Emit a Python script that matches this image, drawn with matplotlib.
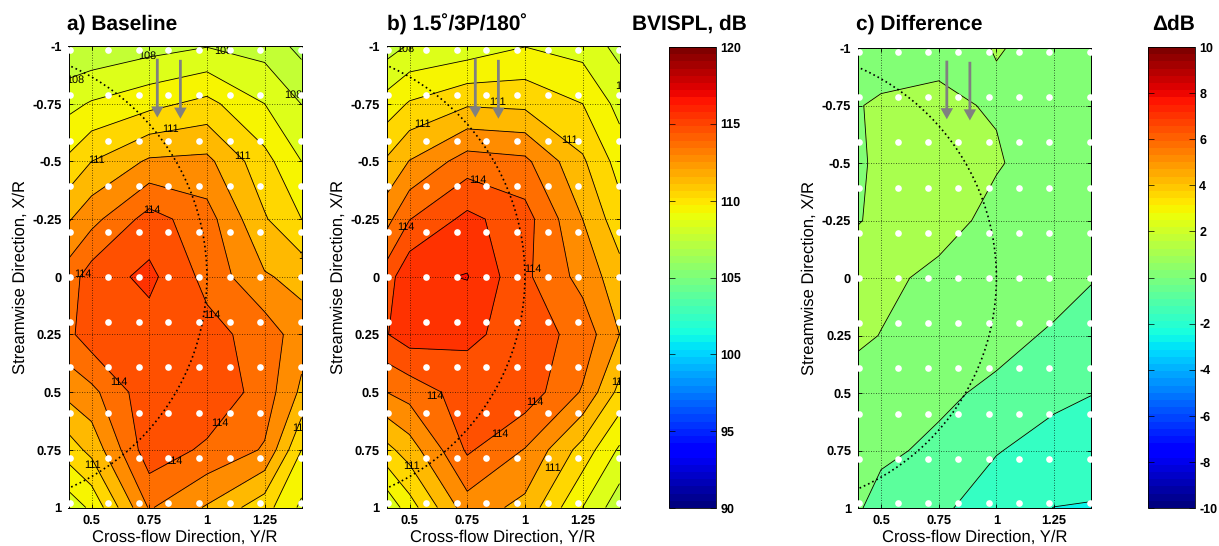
import numpy as np
import matplotlib
matplotlib.use('Agg')
import matplotlib.pyplot as plt
from matplotlib.cm import ScalarMappable
from matplotlib.colors import Normalize
from matplotlib.patches import Circle

plt.rcParams['font.family'] = ['Liberation Sans', 'DejaVu Sans']
plt.rcParams['axes.unicode_minus'] = False
plt.rcParams['text.hinting'] = 'none'

# measurement grid
y_r = [0.4, 0.5, 0.75, 1.0, 1.25, 1.41]
x_r = [-1, -0.75, -0.5, -0.25, 0, 0.25, 0.5, 0.75, 1]

# a) baseline BVISPL, dB (rows = x_r, columns = y_r)
baseline = [
    [107.1, 107.2, 107.6, 107.95, 107.6, 106.7],
    [108.7, 109.1, 109.7, 110.3, 109.0, 107.98],
    [110.2, 111.0, 112.15, 112.25, 110.34, 109.0],
    [111.9, 112.67, 114.41, 113.4, 111.1, 110.0],
    [113.5, 114.5, 115.25, 113.69, 112.1, 111.7],
    [113.77, 114.57, 114.57, 114.34, 113.58, 112.44],
    [112.3, 112.73, 114.7, 114.84, 113.53, 111.8],
    [110.5, 111.3, 114.63, 113.8, 112.9, 110.0],
    [108.4, 109.2, 113.1, 111.9, 110.4, 108.8],
]

# b) 1.5deg/3P/180deg
hhc = [
    [107.55, 108.1, 108.4, 108.97, 108.6, 107.7],
    [109.42, 110.1, 110.86, 110.75, 110.0, 108.67],
    [111.13, 112.04, 113.47, 113.23, 111.15, 109.6],
    [112.65, 113.97, 115.27, 114.4, 112.0, 110.4],
    [114.5, 115.8, 116.05, 114.2, 112.66, 111.4],
    [114.95, 115.5, 115.2, 114.59, 113.6, 112.0],
    [113.0, 113.4, 114.49, 114.6, 112.9, 110.7],
    [110.7, 111.5, 114.15, 112.95, 110.6, 108.85],
    [108.2, 109.55, 112.55, 111.7, 109.0, 107.4],
]

# c) difference, dB
difference = [
    [0.3, 0.54, 0.81, 1.022, 0.889, 0.6],
    [0.96, 1.12, 1.143, 0.925, 0.6, 0.5],
    [0.71, 1.4, 1.5, 1.1, 0.42, 0.4],
    [0.95, 1.2, 1.5, 0.624, 0.5, 0.4],
    [1.575, 1.306, 0.69, 0.6, 0.78, 0.068],
    [1.23, 0.966, 0.75, 0.636, -0.26, -0.5],
    [0.4, 0.6, 0.378, -0.4, -0.7, -0.96],
    [0.55, 0.353, -0.382, -0.93, -1.52, -1.8],
    [0.196, -0.707, -0.75, -1.71, -2.01, -2.025],
]

# microphone positions
mic_y = [0.405, 0.572, 0.705, 0.833, 0.966, 1.10, 1.23, 1.407]
mic_x = [-0.984, -0.786, -0.59, -0.393, -0.195, 0, 0.195, 0.393, 0.59, 0.786, 0.98]

x_ticks = [0.5, 0.75, 1, 1.25]
x_ticklabels = ['0.5', '0.75', '1', '1.25']
y_ticks = [-1, -0.75, -0.5, -0.25, 0, 0.25, 0.5, 0.75, 1]
y_ticklabels = ['-1', '-0.75', '-0.5', '-0.25', '0', '0.25', '0.5', '0.75', '1']

# contour labels: y/r, x/r, text
labels_a = [(0.743, -0.955, '108'), (1.07, -0.98, '108'), (0.428, -0.854, '108'), (1.375, -0.786, '108'),
            (0.84, -0.64, '111'), (0.522, -0.504, '111'), (1.156, -0.522, '111'), (0.763, -0.288, '114'),
            (0.461, -0.013, '114'), (1.021, 0.165, '114'), (0.619, 0.455, '114'), (1.057, 0.636, '114'),
            (0.857, 0.80, '114'), (0.504, 0.815, '111'), (1.405, 0.656, '111'), (1.43, -0.09, '111')]
labels_b = [(0.481, -0.988, '108'), (0.879, -0.757, '111'), (0.558, -0.66, '111'), (1.194, -0.59, '111'),
            (0.795, -0.418, '114'), (0.486, -0.215, '114'), (1.035, -0.035, '114'), (1.43, -0.825, '108'),
            (0.611, 0.517, '114'), (1.045, 0.545, '114'), (0.89, 0.683, '114'), (0.507, 0.82, '111'),
            (1.12, 0.828, '111'), (1.41, 0.455, '111')]

W, H = 1219, 546
fig = plt.figure(figsize=(W / 100, H / 100), dpi=100)


def add_axes_px(left, top, right, bottom):
    return fig.add_axes([left / W, 1 - bottom / H, (right - left) / W, (bottom - top) / H])


def fig_text(x, y, s, **kw):
    fig.text(x / W, 1 - y / H, s, va='center', **kw)


def panel(box, z, levels, vmin, vmax, labels):
    ax = add_axes_px(*box)
    ax.contourf(y_r, x_r, z, levels=levels, cmap=plt.get_cmap('jet', 64), vmin=vmin, vmax=vmax)
    ax.contour(y_r, x_r, z, levels=levels, colors='k', linewidths=0.6, linestyles='solid')
    ax.set_xlim(0.4, 1.41)
    ax.set_ylim(1, -1)
    ax.set_xticks(x_ticks)
    ax.set_xticklabels(x_ticklabels, fontsize=9.3, fontweight='bold')
    ax.set_yticks(y_ticks)
    ax.set_yticklabels(y_ticklabels, fontsize=9.3, fontweight='bold')
    ax.tick_params(direction='in', length=3, width=0.6, top=True, right=True, pad=5)
    ax.grid(True, color='k', linestyle=(0, (1, 2)), linewidth=0.6, alpha=0.8)
    ax.set_axisbelow(False)
    # rotor disk edge
    ax.add_patch(Circle((0, 0), 1, fill=False, linestyle=(0, (1, 1.8)), linewidth=1.2, edgecolor='k', zorder=4))
    for s in ax.spines.values():
        s.set_linewidth(0.7)
    for (tx, ty, t) in labels:
        ax.text(tx, ty, t, fontsize=7.8, ha='center', va='center', color='k', clip_on=True, zorder=4)
    gx, gy = np.meshgrid(mic_y, mic_x)
    ax.plot(gx.ravel(), gy.ravel(), 'o', color='white', markersize=4.8, markeredgewidth=0, zorder=5)
    for ax_x, tip, tail in [(0.785, -0.69, -0.945), (0.885, -0.685, -0.94)]:
        ax.annotate('', xy=(ax_x, tip), xytext=(ax_x, tail), zorder=6,
                    arrowprops=dict(facecolor='#808080', edgecolor='#808080', width=2, headwidth=9, headlength=8,
                                    shrink=0, linewidth=0))
    ax.set_xlabel('Cross-flow Direction, Y/R', fontsize=12, labelpad=2)
    ax.set_ylabel('Streamwise Direction, X/R', fontsize=12, labelpad=3)
    return ax


def color_bar(box, vmin, vmax, ticks):
    cax = add_axes_px(*box)
    sm = ScalarMappable(norm=Normalize(vmin, vmax), cmap=plt.get_cmap('jet', 64))
    cb = fig.colorbar(sm, cax=cax, ticks=ticks)
    cb.ax.tick_params(labelsize=9, length=4, width=0.5, direction='in', pad=3)
    for t in cb.ax.get_yticklabels():
        t.set_fontweight('bold')
    cb.ax.yaxis.set_ticks_position('both')
    cb.ax.yaxis.set_label_position('right')
    cb.ax.tick_params(labelleft=False, labelright=True)
    cb.outline.set_linewidth(0.6)


db_levels = np.arange(100, 119)
panel((68.5, 46, 301.5, 507.5), baseline, db_levels, 90, 120, labels_a)
panel((386.5, 46, 619.5, 507.5), hhc, db_levels, 90, 120, labels_b)
# difference bands sit a little lower on the colour scale in the original
panel((858, 48, 1091, 508), difference, np.arange(-6, 7), -9.7, 10.3, [])

color_bar((669, 47, 716, 508), 90, 120, [90, 95, 100, 105, 110, 115, 120])
color_bar((1148, 47, 1195, 508), -10, 10, list(range(-10, 11, 2)))

title_kw = dict(fontsize=15, fontweight='bold')
fig_text(67, 24, 'a) Baseline', **title_kw)
fig_text(387, 24, 'b) 1.5\u02da/3P/180\u02da', **title_kw)
fig_text(632, 24, 'BVISPL, dB', **title_kw)
fig_text(856, 24, 'c) Difference', **title_kw)
fig_text(1152, 24, '\u0394dB', **title_kw)

fig.savefig('out.png', dpi=100)
